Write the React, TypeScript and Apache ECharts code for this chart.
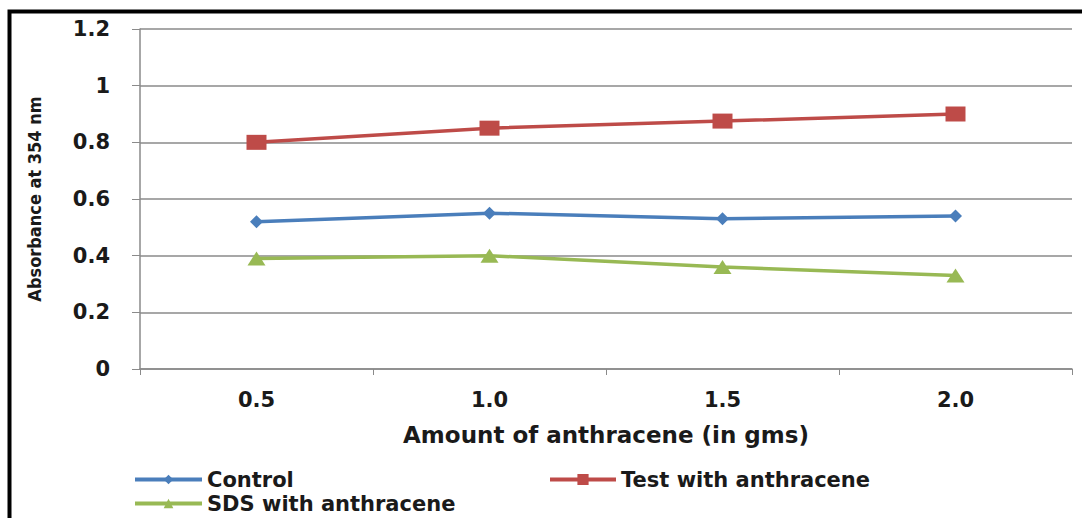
import React, { useEffect, useRef } from "react";
import * as echarts from "echarts";

const categories = ["0.5", "1.0", "1.5", "2.0"];
const controlValues = [0.52, 0.55, 0.53, 0.54];
const testValues = [0.8, 0.85, 0.875, 0.9];
const sdsValues = [0.39, 0.4, 0.36, 0.33];
const seriesNames = ["Control", "Test with anthracene", "SDS with anthracene"];

const FONT = "'DejaVu Sans', sans-serif";
const TXT = "#1a1a1a";
const LEG_TEXT = { fontFamily: FONT, fontWeight: "bold", fontSize: 21, color: TXT };

export default function App() {
  const ref = useRef<HTMLDivElement>(null);
  useEffect(() => {
    if (!ref.current) return;
    const chart = echarts.init(ref.current, null, { renderer: "svg" });
    chart.setOption({
      animation: false,
      backgroundColor: "#ffffff",
      grid: { left: 140, right: 10, top: 29, bottom: 149 },
      xAxis: {
        type: "category",
        data: categories,
        boundaryGap: true,
        name: "Amount of anthracene (in gms)",
        nameLocation: "middle",
        nameGap: 54,
        nameTextStyle: { fontFamily: FONT, fontWeight: "bold", fontSize: 23, color: TXT },
        axisLine: { lineStyle: { color: "#8a8a8a", width: 1.5 } },
        axisTick: { show: true, length: 6, inside: false, alignWithLabel: false, lineStyle: { color: "#8a8a8a" } },
        axisLabel: { fontFamily: FONT, fontWeight: "bold", fontSize: 21, color: TXT, margin: 20 },
        splitLine: { show: false },
      },
      yAxis: {
        type: "value",
        min: 0,
        max: 1.2,
        interval: 0.2,
        name: "Absorbance at 354 nm",
        nameLocation: "middle",
        nameGap: 97,
        nameRotate: 90,
        nameTextStyle: { fontFamily: "'DejaVu Sans Condensed', 'DejaVu Sans', sans-serif", fontWeight: "bold", fontSize: 18, color: TXT },
        axisLine: { show: true, lineStyle: { color: "#8a8a8a", width: 1.5 } },
        axisTick: { show: true, length: 8, lineStyle: { color: "#8a8a8a" } },
        axisLabel: {
          fontFamily: FONT,
          fontWeight: "bold",
          fontSize: 21,
          color: TXT,
          margin: 30,
          formatter: (v: number) => (Math.abs(v - 1) < 1e-9 ? "1" : Math.abs(v) < 1e-9 ? "0" : String(Math.round(v * 10) / 10)),
        },
        splitLine: { lineStyle: { color: "#8a8a8a", width: 1.5 } },
      },
      legend: [
        {
          data: [seriesNames[0]],
          left: 133,
          top: 469,
          itemWidth: 67,
          itemHeight: 12,
          itemGap: 4,
          lineStyle: { width: 4 },
          textStyle: LEG_TEXT,
          padding: 0,
        },
        {
          data: [seriesNames[1]],
          left: 548,
          top: 469,
          itemWidth: 66,
          itemHeight: 14,
          lineStyle: { width: 4 },
          textStyle: LEG_TEXT,
          padding: 0,
        },
        {
          data: [seriesNames[2]],
          left: 133,
          top: 493,
          itemWidth: 67,
          itemHeight: 12,
          lineStyle: { width: 4 },
          textStyle: LEG_TEXT,
          padding: 0,
        },
      ],
      series: [
        {
          name: seriesNames[0],
          type: "line",
          data: controlValues,
          symbol: "diamond",
          symbolSize: 13,
          color: "#4a7ebb",
          lineStyle: { width: 3.5, color: "#4a7ebb" },
          itemStyle: { color: "#4a7ebb" },
        },
        {
          name: seriesNames[1],
          type: "line",
          data: testValues,
          symbol: "rect",
          symbolSize: [20, 15],
          color: "#be4b48",
          lineStyle: { width: 3.5, color: "#be4b48" },
          itemStyle: { color: "#be4b48" },
        },
        {
          name: seriesNames[2],
          type: "line",
          data: sdsValues,
          symbol: "triangle",
          symbolSize: [18, 14],
          color: "#98b954",
          lineStyle: { width: 3.5, color: "#98b954" },
          itemStyle: { color: "#98b954" },
        },
      ],
      graphic: [
        {
          type: "rect",
          shape: { x: 9.5, y: 11.5, width: 1100, height: 540 },
          style: { fill: "none", stroke: "#000000", lineWidth: 4 },
          silent: true,
          z: 100,
        },
      ],
    });
    return () => chart.dispose();
  }, []);
  return (
    <div
      ref={ref}
      style={{ position: "absolute", left: 0, top: 0, width: 1082, height: 518 }}
    />
  );
}
